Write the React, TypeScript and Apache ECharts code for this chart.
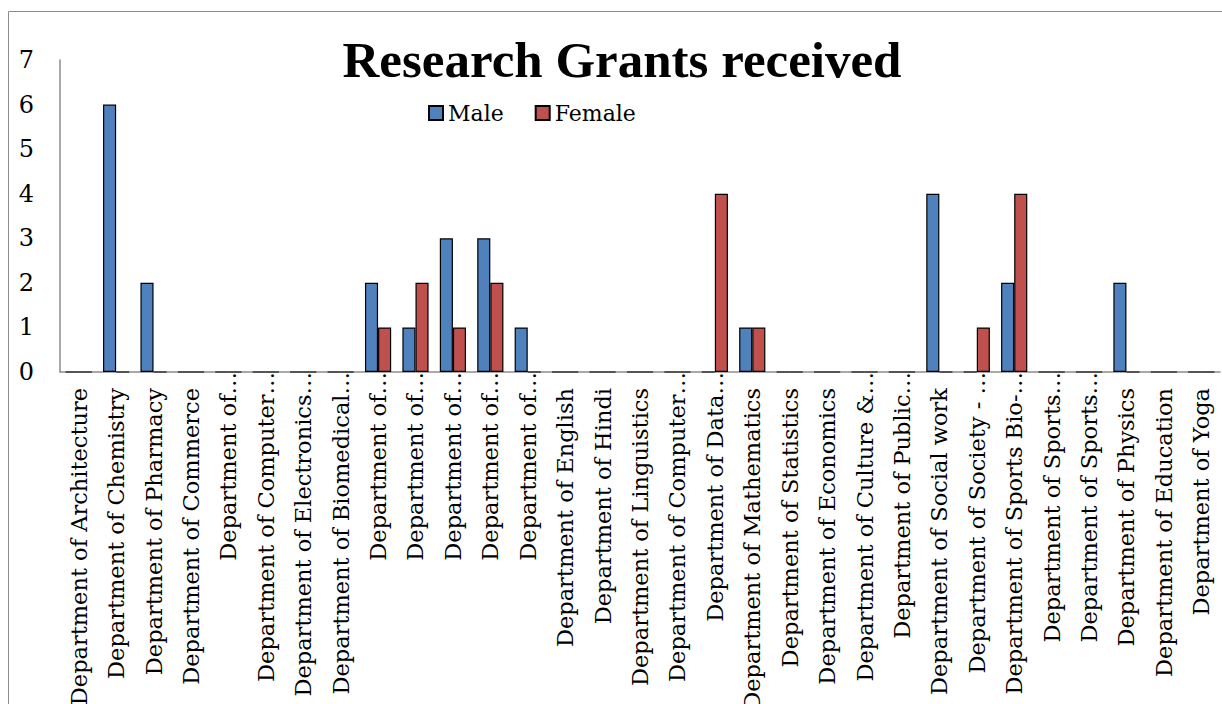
import React, { useEffect, useRef } from "react";
import * as echarts from "echarts";

const categories = [
  "Department of Architecture",
  "Department of Chemistry",
  "Department of Pharmacy",
  "Department of Commerce",
  "Department of…",
  "Department of Computer…",
  "Department of Electronics…",
  "Department of Biomedical…",
  "Department of…",
  "Department of…",
  "Department of…",
  "Department of…",
  "Department of…",
  "Department of English",
  "Department of Hindi",
  "Department of Linguistics",
  "Department of Computer…",
  "Department of Data…",
  "Department of Mathematics",
  "Department of Statistics",
  "Department of Economics",
  "Department of Culture &…",
  "Department of Public…",
  "Department of Social work",
  "Department of Society - …",
  "Department of Sports Bio-…",
  "Department of Sports…",
  "Department of Sports…",
  "Department of Physics",
  "Department of Education",
  "Department of Yoga",
];

const maleValues = [0, 6, 2, 0, 0, 0, 0, 0, 2, 1, 3, 3, 1, 0, 0, 0, 0, 0, 1, 0, 0, 0, 0, 4, 0, 2, 0, 0, 2, 0, 0];
const femaleValues = [0, 0, 0, 0, 0, 0, 0, 0, 1, 2, 1, 2, 0, 0, 0, 0, 0, 4, 1, 0, 0, 0, 0, 0, 1, 4, 0, 0, 0, 0, 0];

const titleText = "Research Grants received";
const seriesNames = ["Male", "Female"];
const seriesColors = ["#4F81BD", "#C0504D"];

export default function App() {
  const ref = useRef<HTMLDivElement>(null);
  useEffect(() => {
    if (!ref.current) return;
    const chart = echarts.init(ref.current, null, { renderer: "svg" });
    const serif = "DejaVu Serif";
    chart.setOption({
      animation: false,
      backgroundColor: "#ffffff",
      title: {
        text: titleText,
        left: 617,
        top: 29,
        textAlign: "center",
        textStyle: {
          fontFamily: "Liberation Serif",
          fontWeight: "bold",
          fontSize: 51,
          color: "#000",
        },
      },
      legend: {
        left: 423,
        top: 97,
        itemWidth: 14,
        itemHeight: 14,
        itemGap: 31,
        icon: "rect",
        textStyle: { fontFamily: serif, fontSize: 22, color: "#000" },
        data: seriesNames,
      },
      graphic: [
        {
          type: "rect",
          shape: { x: 8.5, y: 11.5, width: 1400, height: 900 },
          style: { fill: "none", stroke: "#8c8c8c", lineWidth: 1 },
          silent: true,
        },
      ],
      grid: {
        left: 60,
        right: 2,
        top: 60,
        bottom: 332,
        containLabel: false,
        outerBoundsMode: "none",
      },
      xAxis: {
        type: "category",
        data: categories,
        axisLine: { show: true, lineStyle: { color: "#8c8c8c", width: 1.5 } },
        axisTick: { show: false },
        axisLabel: {
          interval: 0,
          rotate: 90,
          margin: 0,
          color: "#000",
          fontFamily: serif,
          fontSize: 22.5,
          formatter: (v: string) => (v.endsWith("…") ? "{t|" + v + "}" : "{n|" + v + "}"),
          rich: {
            t: { fontFamily: serif, fontSize: 22.5, color: "#000" },
            n: { fontFamily: serif, fontSize: 22.5, color: "#000", padding: [0, 16, 0, 0] },
          },
        },
      },
      yAxis: {
        type: "value",
        min: 0,
        max: 7,
        interval: 1,
        axisLine: { show: true, lineStyle: { color: "#8c8c8c", width: 1.5 } },
        axisTick: { show: false },
        splitLine: { show: false },
        axisLabel: { margin: 26, color: "#000", fontFamily: serif, fontSize: 24 },
      },
      series: [
        {
          name: seriesNames[0],
          type: "bar",
          data: maleValues,
          barGap: "0%",
          barCategoryGap: "30%",
          itemStyle: { color: seriesColors[0], borderColor: "#000", borderWidth: 1.2 },
        },
        {
          name: seriesNames[1],
          type: "bar",
          data: femaleValues,
          barGap: "0%",
          barCategoryGap: "30%",
          itemStyle: { color: seriesColors[1], borderColor: "#000", borderWidth: 1.2 },
        },
      ],
    });
    return () => chart.dispose();
  }, []);
  return (
    <div
      ref={ref}
      style={{ position: "fixed", left: 0, top: 0, width: 1222, height: 704 }}
    />
  );
}
